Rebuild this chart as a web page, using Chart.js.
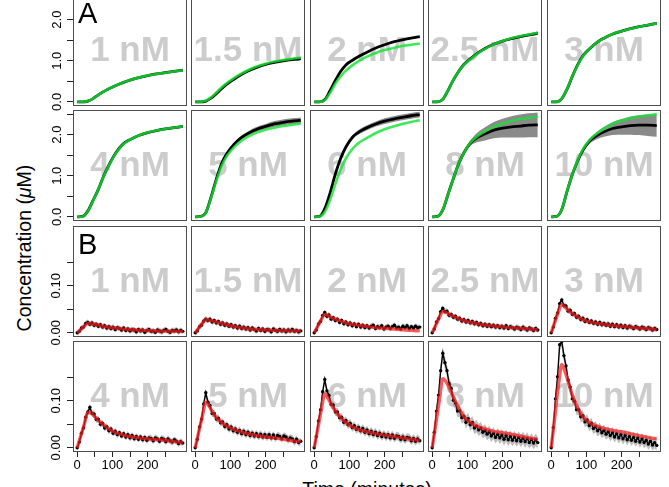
<!DOCTYPE html>
<html>
<head>
<meta charset="utf-8">
<script src="https://cdn.jsdelivr.net/npm/chart.js@4.4.1/dist/chart.umd.min.js"></script>
<style>
  body { margin: 0; background: #fff; width: 669px; height: 487px; overflow: hidden; position: relative;
         font-family: "Liberation Sans", Arial, Helvetica, sans-serif; }
  canvas { position: absolute; }
  .title { position: absolute; color: #000; font-size: 19.5px; text-align: center; white-space: nowrap; }
  #ytitle { left: -76px; top: 236px; width: 200px; height: 24px; line-height: 24px; transform: rotate(-90deg); }
  #xtitle { left: 267px; top: 477px; width: 200px; line-height: 24px; }
</style>
</head>
<body>
<div class="title" id="ytitle">Concentration (<i>μ</i>M)</div>
<div class="title" id="xtitle">Time (minutes)</div>
<script>
// panel names, same order in A and B
const CONCENTRATIONS = ['1 nM', '1.5 nM', '2 nM', '2.5 nM', '3 nM', '4 nM', '5 nM', '6 nM', '8 nM', '10 nM'];

// ---- A: product curves (uM), data (black), sd ribbon (grey), fit (green)
const A_TIMES = [0, 15, 30, 45, 60, 75, 90, 110, 130, 150, 175, 200, 225, 250, 275, 300];
const A_DATA = [
    [0.00, 0.00, 0.02, 0.08, 0.17, 0.25, 0.32, 0.40, 0.47, 0.53, 0.59, 0.64, 0.68, 0.71, 0.74, 0.77],
    [0.00, 0.00, 0.02, 0.09, 0.20, 0.32, 0.43, 0.55, 0.66, 0.75, 0.84, 0.91, 0.96, 1.00, 1.03, 1.05],
    [0.00, 0.00, 0.05, 0.27, 0.52, 0.74, 0.90, 1.02, 1.12, 1.21, 1.31, 1.39, 1.46, 1.51, 1.55, 1.59],
    [0.00, 0.00, 0.06, 0.28, 0.53, 0.74, 0.91, 1.06, 1.19, 1.30, 1.40, 1.48, 1.54, 1.59, 1.63, 1.67],
    [0.00, 0.00, 0.08, 0.31, 0.62, 0.90, 1.12, 1.30, 1.45, 1.55, 1.65, 1.72, 1.78, 1.83, 1.87, 1.91],
    [0.00, 0.01, 0.14, 0.40, 0.67, 0.99, 1.26, 1.56, 1.77, 1.88, 1.98, 2.05, 2.10, 2.14, 2.17, 2.20],
    [0.00, 0.01, 0.10, 0.48, 0.92, 1.30, 1.54, 1.76, 1.92, 2.03, 2.13, 2.20, 2.26, 2.30, 2.33, 2.35],
    [0.00, 0.01, 0.20, 0.58, 1.04, 1.42, 1.70, 1.95, 2.08, 2.17, 2.26, 2.33, 2.38, 2.42, 2.46, 2.49],
    [0.00, 0.01, 0.17, 0.55, 0.93, 1.29, 1.56, 1.81, 1.94, 2.02, 2.11, 2.16, 2.19, 2.21, 2.23, 2.24],
    [0.00, 0.01, 0.18, 0.62, 1.03, 1.36, 1.62, 1.85, 1.98, 2.07, 2.15, 2.19, 2.22, 2.23, 2.23, 2.22]
];
const A_SD = [
    [0, 0, 0.01, 0.01, 0.01, 0.01, 0.01, 0.01, 0.01, 0.01, 0.015, 0.015, 0.015, 0.02, 0.02, 0.02],
    [0, 0, 0.01, 0.01, 0.01, 0.01, 0.01, 0.015, 0.015, 0.015, 0.02, 0.02, 0.02, 0.02, 0.025, 0.025],
    [0, 0, 0.01, 0.01, 0.01, 0.01, 0.01, 0.01, 0.01, 0.015, 0.015, 0.015, 0.015, 0.02, 0.02, 0.02],
    [0, 0, 0.01, 0.01, 0.01, 0.01, 0.01, 0.015, 0.015, 0.02, 0.02, 0.025, 0.03, 0.03, 0.035, 0.04],
    [0, 0, 0.01, 0.01, 0.01, 0.01, 0.01, 0.01, 0.015, 0.015, 0.015, 0.02, 0.02, 0.025, 0.025, 0.03],
    [0, 0, 0.01, 0.01, 0.01, 0.01, 0.01, 0.01, 0.015, 0.015, 0.015, 0.02, 0.02, 0.02, 0.025, 0.025],
    [0, 0, 0.01, 0.01, 0.02, 0.02, 0.03, 0.04, 0.05, 0.05, 0.06, 0.06, 0.07, 0.07, 0.07, 0.07],
    [0, 0, 0.01, 0.02, 0.03, 0.04, 0.05, 0.05, 0.06, 0.06, 0.06, 0.07, 0.07, 0.07, 0.07, 0.07],
    [0, 0, 0.01, 0.01, 0.02, 0.02, 0.03, 0.07, 0.12, 0.16, 0.20, 0.23, 0.26, 0.28, 0.29, 0.30],
    [0, 0, 0.01, 0.02, 0.02, 0.03, 0.04, 0.06, 0.09, 0.12, 0.16, 0.19, 0.22, 0.24, 0.26, 0.27]
];
const A_FIT = [
    [0.00, 0.00, 0.02, 0.08, 0.17, 0.25, 0.32, 0.40, 0.47, 0.53, 0.59, 0.64, 0.68, 0.71, 0.74, 0.77],
    [0.00, 0.00, 0.03, 0.11, 0.23, 0.35, 0.46, 0.58, 0.68, 0.77, 0.86, 0.93, 0.98, 1.02, 1.05, 1.08],
    [0.00, 0.00, 0.04, 0.22, 0.44, 0.62, 0.76, 0.90, 1.01, 1.10, 1.19, 1.26, 1.31, 1.36, 1.39, 1.42],
    [0.00, 0.00, 0.06, 0.28, 0.53, 0.74, 0.90, 1.05, 1.18, 1.29, 1.40, 1.48, 1.55, 1.60, 1.64, 1.68],
    [0.00, 0.00, 0.08, 0.31, 0.62, 0.89, 1.11, 1.30, 1.45, 1.55, 1.65, 1.72, 1.78, 1.83, 1.87, 1.91],
    [0.00, 0.01, 0.13, 0.39, 0.67, 0.98, 1.25, 1.55, 1.76, 1.88, 1.98, 2.05, 2.10, 2.14, 2.17, 2.20],
    [0.00, 0.01, 0.10, 0.46, 0.88, 1.24, 1.48, 1.69, 1.84, 1.95, 2.05, 2.12, 2.17, 2.21, 2.24, 2.27],
    [0.00, 0.01, 0.12, 0.41, 0.80, 1.15, 1.42, 1.67, 1.82, 1.92, 2.04, 2.13, 2.20, 2.26, 2.31, 2.35],
    [0.00, 0.01, 0.17, 0.55, 0.93, 1.29, 1.56, 1.82, 1.97, 2.08, 2.19, 2.27, 2.33, 2.38, 2.41, 2.44],
    [0.00, 0.01, 0.18, 0.62, 1.03, 1.37, 1.64, 1.88, 2.03, 2.14, 2.27, 2.34, 2.40, 2.44, 2.47, 2.50]
];

// ---- B: intermediate (uM), measured points (black), error (grey), fit (red)
const B_TIMES = [0, 6, 12, 18, 24, 30, 36, 42, 48, 54, 60, 66, 72, 78, 84, 90, 96, 102, 108, 114, 120,
    126, 132, 138, 144, 150, 156, 162, 168, 174, 180, 186, 192, 198, 204, 210, 216, 222, 228, 234, 240,
    246, 252, 258, 264, 270, 276, 282, 288, 294, 300];
const B_DATA = [
    [0.000, 0.003, 0.010, 0.012, 0.020, 0.022, 0.018, 0.021, 0.016, 0.018, 0.014, 0.017, 0.012, 0.015, 0.010, 0.013, 0.009,
     0.012, 0.007, 0.011, 0.009, 0.006, 0.010, 0.005, 0.008, 0.004, 0.007, 0.006, 0.002, 0.007, 0.004, 0.006, 0.001, 0.005,
     0.007, 0.003, 0.004, 0.001, 0.006, 0.004, 0.002, 0.005, 0.007, 0.003, 0.001, 0.005, 0.004, 0.006, 0.002, 0.005, 0.003],
    [0.000, 0.004, 0.013, 0.016, 0.025, 0.029, 0.026, 0.029, 0.023, 0.026, 0.021, 0.024, 0.018, 0.021, 0.016, 0.019, 0.014,
     0.017, 0.012, 0.015, 0.010, 0.014, 0.009, 0.012, 0.008, 0.011, 0.006, 0.010, 0.007, 0.004, 0.009, 0.005, 0.008, 0.003,
     0.007, 0.006, 0.002, 0.008, 0.005, 0.003, 0.007, 0.004, 0.006, 0.002, 0.006, 0.004, 0.007, 0.003, 0.005, 0.002, 0.004],
    [0.000, 0.006, 0.019, 0.024, 0.037, 0.043, 0.035, 0.038, 0.029, 0.032, 0.026, 0.029, 0.022, 0.026, 0.019, 0.023, 0.017,
     0.021, 0.015, 0.019, 0.013, 0.018, 0.012, 0.016, 0.011, 0.015, 0.010, 0.014, 0.016, 0.009, 0.013, 0.011, 0.015, 0.008,
     0.012, 0.014, 0.009, 0.013, 0.016, 0.010, 0.012, 0.008, 0.014, 0.011, 0.015, 0.009, 0.013, 0.010, 0.014, 0.011, 0.012],
    [0.000, 0.008, 0.023, 0.030, 0.045, 0.052, 0.045, 0.046, 0.037, 0.039, 0.033, 0.035, 0.029, 0.031, 0.025, 0.028, 0.023,
     0.026, 0.021, 0.024, 0.019, 0.022, 0.017, 0.020, 0.015, 0.018, 0.014, 0.017, 0.013, 0.016, 0.012, 0.015, 0.011, 0.014,
     0.010, 0.015, 0.009, 0.013, 0.011, 0.008, 0.012, 0.010, 0.007, 0.012, 0.009, 0.006, 0.010, 0.008, 0.005, 0.009, 0.006],
    [0.000, 0.012, 0.031, 0.042, 0.062, 0.070, 0.058, 0.057, 0.046, 0.048, 0.039, 0.041, 0.033, 0.035, 0.028, 0.031, 0.024,
     0.028, 0.022, 0.025, 0.020, 0.023, 0.018, 0.022, 0.017, 0.020, 0.016, 0.019, 0.014, 0.018, 0.013, 0.017, 0.012, 0.016,
     0.011, 0.015, 0.010, 0.014, 0.012, 0.009, 0.013, 0.011, 0.008, 0.012, 0.010, 0.007, 0.011, 0.009, 0.006, 0.009, 0.007],
    [0.000, 0.012, 0.031, 0.042, 0.065, 0.076, 0.086, 0.073, 0.072, 0.060, 0.061, 0.050, 0.052, 0.042, 0.045, 0.036, 0.040,
     0.031, 0.035, 0.028, 0.032, 0.025, 0.030, 0.023, 0.028, 0.021, 0.026, 0.019, 0.024, 0.018, 0.023, 0.017, 0.022, 0.016,
     0.021, 0.020, 0.015, 0.021, 0.019, 0.014, 0.020, 0.018, 0.013, 0.019, 0.015, 0.012, 0.017, 0.014, 0.009, 0.013, 0.010],
    [0.000, 0.018, 0.044, 0.061, 0.093, 0.117, 0.097, 0.090, 0.073, 0.073, 0.061, 0.063, 0.053, 0.055, 0.045, 0.049, 0.040,
     0.044, 0.036, 0.040, 0.033, 0.037, 0.030, 0.035, 0.028, 0.033, 0.026, 0.031, 0.025, 0.030, 0.024, 0.029, 0.023, 0.028,
     0.022, 0.028, 0.021, 0.027, 0.020, 0.026, 0.024, 0.019, 0.025, 0.023, 0.017, 0.021, 0.019, 0.013, 0.018, 0.011, 0.014],
    [0.000, 0.024, 0.057, 0.081, 0.119, 0.145, 0.121, 0.111, 0.092, 0.091, 0.076, 0.076, 0.064, 0.065, 0.054, 0.058, 0.049,
     0.052, 0.043, 0.047, 0.039, 0.043, 0.036, 0.041, 0.033, 0.038, 0.030, 0.035, 0.028, 0.033, 0.026, 0.031, 0.024, 0.029,
     0.023, 0.028, 0.021, 0.027, 0.020, 0.025, 0.024, 0.018, 0.023, 0.017, 0.022, 0.021, 0.015, 0.020, 0.014, 0.019, 0.015],
    [0.000, 0.033, 0.078, 0.112, 0.164, 0.201, 0.181, 0.164, 0.136, 0.126, 0.101, 0.095, 0.078, 0.079, 0.064, 0.067, 0.054,
     0.062, 0.049, 0.054, 0.042, 0.046, 0.038, 0.042, 0.033, 0.037, 0.029, 0.034, 0.025, 0.031, 0.022, 0.029, 0.021, 0.027,
     0.018, 0.026, 0.017, 0.024, 0.016, 0.023, 0.015, 0.022, 0.014, 0.021, 0.013, 0.020, 0.011, 0.018, 0.010, 0.017, 0.011],
    [0.000, 0.043, 0.104, 0.151, 0.219, 0.226, 0.196, 0.174, 0.144, 0.129, 0.104, 0.099, 0.081, 0.081, 0.066, 0.068, 0.055,
     0.059, 0.047, 0.052, 0.041, 0.045, 0.036, 0.041, 0.032, 0.037, 0.029, 0.034, 0.026, 0.032, 0.023, 0.030, 0.021, 0.028,
     0.019, 0.026, 0.017, 0.024, 0.016, 0.022, 0.014, 0.021, 0.012, 0.019, 0.011, 0.016, 0.008, 0.014, 0.006, 0.011, 0.005]
];
const B_SD = [0.006, 0.006, 0.006, 0.006, 0.006, 0.007, 0.008, 0.009, 0.013, 0.012];
const B_FIT_TIMES = [0, 10, 20, 30, 40, 50, 60, 75, 90, 110, 130, 150, 175, 200, 225, 250, 275, 300];
const B_FIT = [
    [0, 0.007, 0.014, 0.020, 0.019, 0.018, 0.0165, 0.0135, 0.0118, 0.0098, 0.0082, 0.0068, 0.0055, 0.0045, 0.0038, 0.0034, 0.0031, 0.0030],
    [0, 0.010, 0.020, 0.028, 0.027, 0.025, 0.023, 0.020, 0.0170, 0.0135, 0.0110, 0.0085, 0.0070, 0.0060, 0.0050, 0.0045, 0.0040, 0.0040],
    [0, 0.014, 0.028, 0.039, 0.036, 0.032, 0.029, 0.025, 0.021, 0.018, 0.0155, 0.0135, 0.0110, 0.0095, 0.0080, 0.0065, 0.0050, 0.0040],
    [0, 0.016, 0.032, 0.045, 0.043, 0.039, 0.035, 0.030, 0.026, 0.022, 0.019, 0.0165, 0.0145, 0.0125, 0.0110, 0.0095, 0.0080, 0.0065],
    [0, 0.022, 0.044, 0.060, 0.054, 0.047, 0.041, 0.034, 0.028, 0.023, 0.020, 0.018, 0.0155, 0.0135, 0.0120, 0.0100, 0.0085, 0.0070],
    [0, 0.025, 0.050, 0.075, 0.074, 0.066, 0.058, 0.049, 0.040, 0.032, 0.0275, 0.024, 0.021, 0.019, 0.0175, 0.016, 0.013, 0.011],
    [0, 0.033, 0.066, 0.097, 0.088, 0.075, 0.064, 0.054, 0.046, 0.039, 0.034, 0.030, 0.026, 0.023, 0.021, 0.018, 0.015, 0.013],
    [0, 0.040, 0.080, 0.115, 0.104, 0.090, 0.078, 0.064, 0.054, 0.044, 0.038, 0.034, 0.030, 0.027, 0.024, 0.021, 0.018, 0.016],
    [0, 0.050, 0.100, 0.147, 0.140, 0.125, 0.108, 0.085, 0.066, 0.053, 0.045, 0.040, 0.035, 0.032, 0.029, 0.025, 0.021, 0.018],
    [0, 0.065, 0.130, 0.177, 0.160, 0.136, 0.112, 0.085, 0.066, 0.053, 0.046, 0.041, 0.037, 0.034, 0.030, 0.026, 0.022, 0.019]
];

// ---- axes
const X_TICKS = [0, 50, 100, 150, 200, 250];
const X_LABELS = ['0', '', '100', '', '200', ''];
const A_Y_TICKS = [0, 0.5, 1, 1.5, 2, 2.5];
const A_Y_LABELS = ['0.0', '', '1.0', '', '2.0', ''];
const B_Y_TICKS = [0, 0.05, 0.10, 0.15];
const B_Y_LABELS = ['0.00', '', '0.10', ''];

// ---- layout (px)
const COL_LEFT = [73, 191, 310, 428, 547];
const ROW_TOP = [-5, 110, 226, 341];
const PANEL_W = 114;
const PANEL_H = 111;
const AXIS_W = 45;
const AXIS_H = 30;
const LABEL_ROOM = 12;

const FONT = '"Liberation Sans", Arial, Helvetica, sans-serif';
Chart.defaults.font.family = FONT;
Chart.defaults.color = '#000';

/**
 * grey concentration label behind the curves, panel letter and the box
 */
const panelDecor = {
    id: 'panelDecor',
    beforeDatasetsDraw(chart, args, opts) {
        const {ctx, chartArea: a} = chart;
        ctx.save();
        ctx.font = 'bold 35px ' + FONT;
        ctx.fillStyle = '#cccccc';
        ctx.textAlign = 'center';
        ctx.textBaseline = 'middle';
        ctx.fillText(opts.text, (a.left + a.right) / 2, (a.top + a.bottom) / 2 + 1);
        if (opts.letter) {
            ctx.font = '29px ' + FONT;
            ctx.fillStyle = '#000';
            ctx.textAlign = 'left';
            ctx.textBaseline = 'alphabetic';
            ctx.fillText(opts.letter, a.left + 5, a.top + 28);
        }
        ctx.restore();
    },
    afterDraw(chart) {
        const {ctx, chartArea: a} = chart;
        ctx.save();
        ctx.strokeStyle = '#4d4d4d';
        ctx.lineWidth = 1;
        ctx.strokeRect(a.left + 0.5, a.top + 0.5, a.right - a.left - 1, a.bottom - a.top - 1);
        ctx.restore();
    }
};

function toPoints(xs, ys) {
    return xs.map((x, j) => ({x: x, y: ys[j]}));
}

function datasetsA(k) {
    const upper = A_DATA[k].map((v, j) => v + A_SD[k][j]);
    const lower = A_DATA[k].map((v, j) => v - A_SD[k][j]);
    return [
        {data: toPoints(A_TIMES, upper), borderWidth: 0, pointRadius: 0, fill: false, order: 4,
            cubicInterpolationMode: 'monotone'},
        {data: toPoints(A_TIMES, lower), borderWidth: 0, pointRadius: 0, fill: '-1', order: 3,
            backgroundColor: '#8a8a8a', cubicInterpolationMode: 'monotone'},
        {data: toPoints(A_TIMES, A_DATA[k]), borderColor: '#000', borderWidth: 2.8, pointRadius: 0, order: 2,
            cubicInterpolationMode: 'monotone'},
        {data: toPoints(A_TIMES, A_FIT[k]), borderColor: 'rgba(20, 228, 50, 0.82)', borderWidth: 2.6, pointRadius: 0,
            order: 1, cubicInterpolationMode: 'monotone'}
    ];
}

function datasetsB(k) {
    const upper = B_DATA[k].map(v => v + B_SD[k]);
    const lower = B_DATA[k].map(v => v - B_SD[k]);
    return [
        {data: toPoints(B_TIMES, upper), borderWidth: 0, pointRadius: 0, fill: false, order: 4},
        {data: toPoints(B_TIMES, lower), borderWidth: 0, pointRadius: 0, fill: '-1', order: 3,
            backgroundColor: 'rgba(160, 160, 160, 0.7)'},
        {data: toPoints(B_TIMES, B_DATA[k]), borderColor: '#000', borderWidth: 1.4, pointRadius: 1.7,
            pointBackgroundColor: '#000', pointBorderWidth: 0, order: 2},
        {data: toPoints(B_FIT_TIMES, B_FIT[k]), borderColor: 'rgba(245, 30, 30, 0.72)', borderWidth: 3.4,
            pointRadius: 0, order: 1, cubicInterpolationMode: 'monotone'}
    ];
}

function makePanel(idx) {
    const row = Math.floor(idx / 5);
    const col = idx % 5;
    const k = idx % 10;
    const isA = idx < 10;
    const showY = col === 0;
    const showX = row === 3;
    const leftPad = showY ? AXIS_W : 0;
    const bottomPad = showX ? AXIS_H : (showY ? LABEL_ROOM : 0);

    const canvas = document.createElement('canvas');
    canvas.width = PANEL_W + leftPad;
    canvas.height = PANEL_H + bottomPad;
    canvas.style.left = (COL_LEFT[col] - leftPad) + 'px';
    canvas.style.top = ROW_TOP[row] + 'px';
    document.body.appendChild(canvas);

    const yTicks = isA ? A_Y_TICKS : B_Y_TICKS;
    const yLabels = isA ? A_Y_LABELS : B_Y_LABELS;

    const xScale = {
        type: 'linear', min: -12, max: 312, display: showX,
        ticks: {autoSkip: false, maxRotation: 0, padding: 1, font: {size: 13},
            callback: (v, i) => X_LABELS[i]},
        grid: {drawOnChartArea: false, tickLength: 5, color: '#222'},
        border: {display: false},
        afterBuildTicks: s => { s.ticks = X_TICKS.map(v => ({value: v})); }
    };
    if (showX) {
        xScale.afterFit = s => { s.height = AXIS_H; s.paddingLeft = 0; s.paddingRight = 0; };
    }
    const yScale = {
        type: 'linear', min: isA ? -0.1 : -0.009, max: isA ? 2.6 : 0.227, display: showY,
        ticks: {autoSkip: false, minRotation: 90, maxRotation: 90, crossAlign: 'center',
            padding: isA ? 1 : -2, font: {size: 13}, callback: (v, i) => yLabels[i]},
        grid: {drawOnChartArea: false, tickLength: 6, color: '#222'},
        border: {display: false},
        afterBuildTicks: s => { s.ticks = yTicks.map(v => ({value: v})); }
    };
    if (showY) {
        yScale.afterFit = s => { s.width = AXIS_W; s.paddingTop = 0; s.paddingBottom = 0; };
    }

    new Chart(canvas, {
        type: 'line',
        data: {datasets: isA ? datasetsA(k) : datasetsB(k)},
        options: {
            responsive: false,
            animation: false,
            devicePixelRatio: 1,
            events: [],
            layout: {autoPadding: false,
                padding: {left: 0, right: 0, top: 0, bottom: (!showX && showY) ? LABEL_ROOM : 0}},
            scales: {x: xScale, y: yScale},
            plugins: {
                legend: {display: false},
                tooltip: {enabled: false},
                panelDecor: {text: CONCENTRATIONS[k], letter: idx === 0 ? 'A' : (idx === 10 ? 'B' : '')}
            }
        },
        plugins: [panelDecor]
    });
}

for (let idx = 0; idx < 20; idx++) {
    makePanel(idx);
}
</script>
</body>
</html>
